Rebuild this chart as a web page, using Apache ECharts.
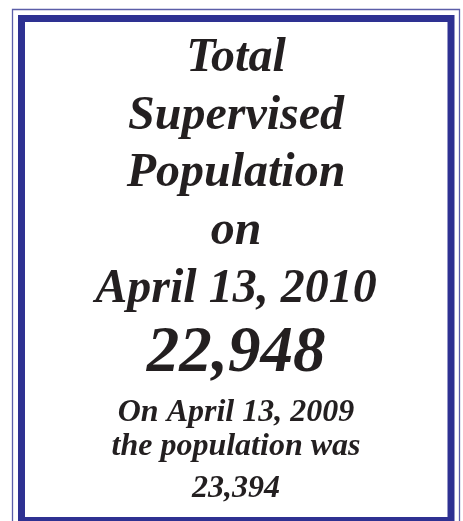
<!DOCTYPE html>
<html>
<head>
<meta charset="utf-8">
<script src="https://cdn.jsdelivr.net/npm/echarts@6/dist/echarts.min.js"></script>
<style>html,body{margin:0;padding:0;background:#fff}#c{width:463px;height:521px}</style>
</head>
<body>
<div id="c"></div>
<script>
// Text content of the panel
const headingLines = ['Total', 'Supervised', 'Population', 'on', 'April 13, 2010'];
const currentValue = '22,948';
const footLines = ['On April 13, 2009', 'the population was', '23,394'];

const chart = echarts.init(document.getElementById('c'), null, {renderer: 'canvas'});
const FONT = 'Liberation Serif';
const INK = '#231f20';
const BLUE = '#2e3192';
const cx = 236;

const elements = [];
// borders
elements.push({type: 'rect', shape: {x: 12.5, y: 9.5, width: 447, height: 530}, style: {fill: 'none', stroke: '#5b5ea8', lineWidth: 1.3}, silent: true});
elements.push({type: 'rect', shape: {x: 21.5, y: 18.5, width: 429.5, height: 502}, style: {fill: 'none', stroke: BLUE, lineWidth: 7}, silent: true});

function txt(s, baseline, size) {
  elements.push({
    type: 'text', x: cx, y: baseline, silent: true,
    style: {text: s, x: 0, y: 0, fill: INK, fontFamily: FONT, fontStyle: 'italic', fontWeight: 'bold', fontSize: size, align: 'center', verticalAlign: 'bottom'}
  });
}
const headBase = [72, 130, 187, 245, 303];
headingLines.forEach((s, i) => txt(s, headBase[i] + 11, 48));
txt(currentValue, 372 + 15, 65);
const footBase = [422, 456, 498];
footLines.forEach((s, i) => txt(s, footBase[i] + 7, 32));

chart.setOption({animation: false, graphic: {elements}});
</script>
</body>
</html>
